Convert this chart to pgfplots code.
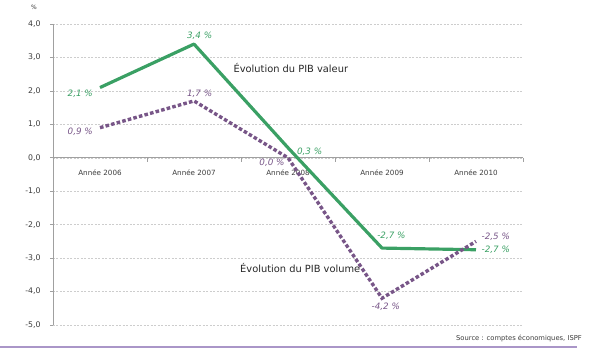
\documentclass[border=0pt]{standalone}
\usepackage{fontspec}
\setmainfont{DejaVu Sans}
\usepackage{pgfplots}
\pgfplotsset{compat=1.18}
\definecolor{vgreen}{RGB}{58,160,100}
\definecolor{vpurple}{RGB}{120,86,136}
\definecolor{lav}{RGB}{170,150,200}
\definecolor{gridc}{RGB}{205,205,205}
\definecolor{axc}{RGB}{160,160,160}
\definecolor{txt}{RGB}{60,60,60}
\begin{document}
\begin{tikzpicture}
\useasboundingbox (-53bp,-24bp) rectangle (536bp,325bp);
\begin{axis}[
  at={(0,0)}, anchor=south west,
  scale only axis, width=470bp, height=301bp,
  xmin=-0.5, xmax=4.5, ymin=-5, ymax=4,
  axis x line=middle, axis y line=left,
  axis line style={-, draw=axc, line width=0.8pt},
  hide obscured x ticks=false, hide obscured y ticks=false,
  xtick={0,1,2,3,4},
  xticklabels={Année 2006,Année 2007,Année 2008,Année 2009,Année 2010},
  x tick style={draw=none},
  xticklabel style={font=\fontsize{7.2}{8}\selectfont, text=txt, yshift=-5bp},
  ytick={-5,-4,...,4},
  y tick style={draw=axc, line width=0.6pt},
  major tick length=3bp, tick align=outside,
  yticklabel style={font=\fontsize{7.8}{9}\selectfont, text=txt, xshift=-6bp},
  /pgf/number format/.cd, fixed, fixed zerofill, precision=1, use comma, assume math mode=true,
  /pgfplots/.cd,
  ymajorgrids, grid style={gridc, dash pattern=on 2pt off 1.5pt, line width=0.5pt},
  clip=false,
]
\pgfplotsinvokeforeach{-0.5,0.5,1.5,2.5,3.5,4.5}{
  \draw[axc, line width=0.6pt] (axis cs:#1,0) -- (axis cs:#1,-0.12);
}
\addplot[vgreen, line width=3.2pt, line join=round] coordinates {
  (0,2.1) (1,3.4) (2,0.3) (3,-2.7) (4,-2.75)
};
\addplot[vpurple, line width=3.4pt, dash pattern=on 3.6pt off 2.2pt] coordinates {
  (0,0.9) (1,1.7) (2,0.0) (3,-4.2) (4,-2.5)
};
\begin{scope}[font=\fontsize{8.8}{10}\selectfont\itshape]
\node[text=vgreen] at (axis cs:-0.21,1.91) {2,1 \%};
\node[text=vgreen] at (axis cs:1.06,3.65) {3,4 \%};
\node[text=vgreen] at (axis cs:2.23,0.18) {0,3 \%};
\node[text=vgreen] at (axis cs:3.10,-2.33) {-2,7 \%};
\node[text=vgreen] at (axis cs:4.21,-2.75) {-2,7 \%};
\node[text=vpurple] at (axis cs:-0.21,0.78) {0,9 \%};
\node[text=vpurple] at (axis cs:1.06,1.91) {1,7 \%};
\node[text=vpurple] at (axis cs:1.83,-0.15) {0,0 \%};
\node[text=vpurple] at (axis cs:3.04,-4.46) {-4,2 \%};
\node[text=vpurple] at (axis cs:4.21,-2.36) {-2,5 \%};
\end{scope}
\node[text=black!85, font=\fontsize{9.9}{12}\selectfont] at (axis cs:2.03,2.69) {Évolution du PIB valeur};
\node[text=black!85, font=\fontsize{9.9}{12}\selectfont] at (axis cs:2.13,-3.29) {Évolution du PIB volume};
\end{axis}
\node[text=txt, font=\fontsize{6}{7}\selectfont] at (-19bp,318bp) {\%};
\node[text=txt, font=\fontsize{6.8}{8}\selectfont, anchor=east, inner sep=0pt] at (529bp,-13bp) {Source : comptes économiques, ISPF};
\draw[lav, line width=2bp] (-53bp,-22bp) -- (524bp,-22bp);
\end{tikzpicture}
\end{document}
